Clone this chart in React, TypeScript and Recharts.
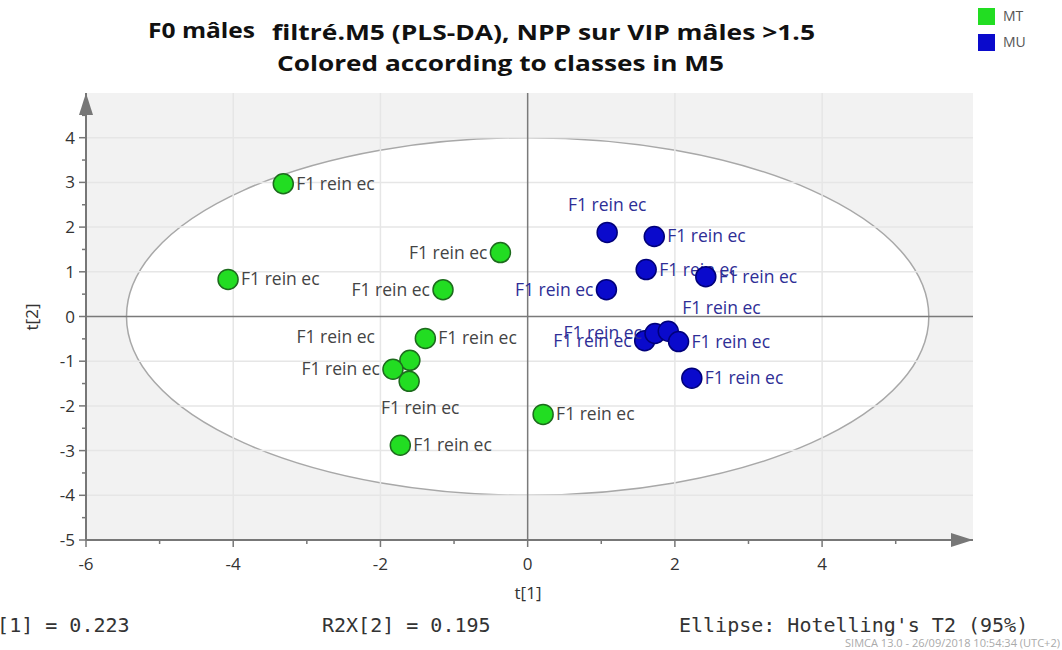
import React from 'react';
import {
  ScatterChart,
  Scatter,
  XAxis,
  YAxis,
  CartesianGrid,
  ReferenceLine,
  ReferenceArea,
  ReferenceDot,
} from 'recharts';

// scores t[1], t[2] for class MT (green) and MU (blue)
const mtT1 = [-3.32, -4.07, -0.37, -1.15, -1.39, -1.6, -1.83, -1.61, 0.21, -1.73];
const mtT2 = [2.97, 0.83, 1.43, 0.6, -0.49, -0.98, -1.18, -1.45, -2.19, -2.88];
const mtLabelSide = ['right', 'right', 'left', 'left', 'right', 'upleft', 'left', 'below', 'right', 'right'];

const muT1 = [1.08, 1.72, 1.61, 2.42, 1.07, 1.59, 1.73, 1.91, 2.05, 2.23];
const muT2 = [1.88, 1.79, 1.05, 0.89, 0.6, -0.54, -0.38, -0.33, -0.56, -1.38];
const muLabelSide = ['above', 'right', 'right', 'right', 'left', 'left', 'left', 'upright', 'right', 'right'];

const pointName = 'F1 rein ec';

const xTicks = [-6, -5, -4, -3, -2, -1, 0, 1, 2, 3, 4, 5];
const yTicks = [-5, -4.5, -4, -3.5, -3, -2.5, -2, -1.5, -1, -0.5, 0, 0.5, 1, 1.5, 2, 2.5, 3, 3.5, 4, 4.5];
const xGrid = [-4, -2, 2, 4];
const yGrid = [-4, -3, -2, -1, 1, 2, 3, 4];
const xDomain = [-6, 6.05];
const yDomain = [-5, 5];

// Hotelling's T2 (95%) ellipse semi-axes
const ellipseA = 5.45;
const ellipseB = 4.0;

const mtData = mtT1.map((t1, i) => ({ t1, t2: mtT2[i], side: mtLabelSide[i], name: pointName }));
const muData = muT1.map((t1, i) => ({ t1, t2: muT2[i], side: muLabelSide[i], name: pointName }));

const labelFont = '"Open Sans", sans-serif';

const makeShape = (fill: string, stroke: string, labelColor: string) => (props: any) => {
  const { cx, cy, payload } = props;
  let tx = cx + 13;
  let ty = cy + 6;
  let anchor = 'start';
  switch (payload.side) {
    case 'left':
      tx = cx - 13;
      anchor = 'end';
      break;
    case 'above':
      tx = cx;
      ty = cy - 21;
      anchor = 'middle';
      break;
    case 'below':
      tx = cx + 11;
      ty = cy + 33;
      anchor = 'middle';
      break;
    case 'upright':
      tx = cx + 14;
      ty = cy - 17;
      break;
    case 'upleft':
      tx = cx - 35;
      ty = cy - 17;
      anchor = 'end';
      break;
  }
  return (
    <g>
      <circle cx={cx} cy={cy} r={10} fill={fill} stroke={stroke} strokeWidth={1.5} />
      <text x={tx} y={ty} textAnchor={anchor} fontSize={17.5} fontFamily={labelFont} fill={labelColor}>
        {payload.name}
      </text>
    </g>
  );
};

const XTick = (props: any) => {
  const { x, y, payload } = props;
  const major = payload.value % 2 === 0;
  return (
    <g>
      <line x1={x} x2={x} y1={y} y2={y + (major ? 7 : 4)} stroke="#777" strokeWidth={1.5} />
      {major && (
        <text x={x} y={y + 30} textAnchor="middle" fontSize={17} fontFamily={labelFont} fill="#333">
          {payload.value}
        </text>
      )}
    </g>
  );
};

const YTick = (props: any) => {
  const { x, y, payload } = props;
  const major = Number.isInteger(payload.value);
  return (
    <g>
      <line x1={x - (major ? 7 : 4)} x2={x} y1={y} y2={y} stroke="#777" strokeWidth={1.5} />
      {major && (
        <text x={x - 11} y={y + 6} textAnchor="end" fontSize={17} fontFamily={labelFont} fill="#333">
          {payload.value}
        </text>
      )}
    </g>
  );
};

// grey shading outside the ellipse, drawn over the whole plot rect with the ellipse cut out
const ellipseMask = (p: any) => {
  const kx = p.width / (xDomain[1] - xDomain[0]);
  const ky = p.height / (yDomain[1] - yDomain[0]);
  const cx = p.x + (0 - xDomain[0]) * kx;
  const cy = p.y + (yDomain[1] - 0) * ky;
  const rx = ellipseA * kx;
  const ry = ellipseB * ky;
  const rect = `M${p.x},${p.y} h${p.width} v${p.height} h${-p.width} z`;
  const ell = `M${cx - rx},${cy} a${rx},${ry} 0 1,0 ${2 * rx},0 a${rx},${ry} 0 1,0 ${-2 * rx},0 z`;
  return (
    <g>
      <path d={`${rect} ${ell}`} fillRule="evenodd" fill="#000" fillOpacity={0.05} />
      <path d={ell} fill="none" stroke="#a8a8a8" strokeWidth={1.5} />
    </g>
  );
};

const rightArrow = (p: any) => <path d={`M${p.cx},${p.cy} l-22,-7 l0,14 z`} fill="#777" />;
const upArrow = (p: any) => <path d={`M${p.cx},${p.cy} l-7,22 l14,0 z`} fill="#777" />;

const monoFont = '"DejaVu Sans Mono", monospace';

export default function App() {
  return (
    <div style={{ position: 'absolute', left: 0, top: 0, width: 1062, height: 650, background: '#fff' }}>
      <ScatterChart width={1062} height={650} margin={{ top: 93, right: 89, bottom: 80, left: 36 }}>
        <CartesianGrid fill="#ffffff" horizontal={false} vertical={false} />
        {xGrid.map((v) => (
          <ReferenceLine key={`gx${v}`} x={v} stroke="#e6e6e6" strokeWidth={1.5} />
        ))}
        {yGrid.map((v) => (
          <ReferenceLine key={`gy${v}`} y={v} stroke="#e6e6e6" strokeWidth={1.5} />
        ))}
        <ReferenceArea x1={xDomain[0]} x2={xDomain[1]} y1={yDomain[0]} y2={yDomain[1]} shape={ellipseMask} />
        <ReferenceLine x={0} stroke="#7a7a7a" strokeWidth={1.5} />
        <ReferenceLine y={0} stroke="#7a7a7a" strokeWidth={1.5} />
        <XAxis
          type="number"
          dataKey="t1"
          domain={xDomain}
          ticks={xTicks}
          allowDataOverflow
          interval={0}
          tickSize={0}
          tickMargin={0}
          tickLine={false}
          tick={<XTick />}
          height={30}
          axisLine={{ stroke: '#777', strokeWidth: 2 }}
        />
        <YAxis
          type="number"
          dataKey="t2"
          domain={yDomain}
          ticks={yTicks}
          allowDataOverflow
          interval={0}
          tickSize={0}
          tickMargin={0}
          tickLine={false}
          tick={<YTick />}
          width={50}
          axisLine={{ stroke: '#777', strokeWidth: 2 }}
        />
        <Scatter name="MT" data={mtData} shape={makeShape('#22dd22', '#1d6b1d', '#444')} isAnimationActive={false} />
        <Scatter name="MU" data={muData} shape={makeShape('#0a0acc', '#00007a', '#2e2e96')} isAnimationActive={false} />
        <ReferenceDot x={xDomain[1]} y={yDomain[0]} ifOverflow="visible" shape={rightArrow} />
        <ReferenceDot x={xDomain[0]} y={yDomain[1]} ifOverflow="visible" shape={upArrow} />
      </ScatterChart>
      <svg width={1062} height={650} style={{ position: 'absolute', left: 0, top: 0, pointerEvents: 'none' }}>
        <g fontFamily={labelFont} fontWeight={700} fill="#111">
          <text x={148} y={38} fontSize={22} textLength={107} lengthAdjust="spacingAndGlyphs">F0 mâles</text>
          <text x={272} y={40} fontSize={21} textLength={543} lengthAdjust="spacingAndGlyphs">
            filtré.M5 (PLS-DA), NPP sur VIP mâles &gt;1.5
          </text>
          <text x={277} y={71} fontSize={21} textLength={447} lengthAdjust="spacingAndGlyphs">
            Colored according to classes in M5
          </text>
        </g>
        <rect x={978} y={8} width={17} height={17} fill="#22dd22" />
        <rect x={978} y={34} width={17} height={17} fill="#0a0acc" />
        <text x={1003} y={21} fontSize={14} fontFamily={labelFont} fill="#555">MT</text>
        <text x={1003} y={47} fontSize={14} fontFamily={labelFont} fill="#555">MU</text>
        <text x={528} y={599} textAnchor="middle" fontSize={17} fontFamily={labelFont} fill="#333">t[1]</text>
        <text
          x={38}
          y={317}
          textAnchor="middle"
          fontSize={17}
          fontFamily={labelFont}
          fill="#333"
          transform="rotate(-90 38 317)"
        >
          t[2]
        </text>
        <g fontFamily={monoFont} fontSize={20} fill="#333">
          <text x={-39} y={632}>R2X[1] = 0.223</text>
          <text x={322} y={632}>R2X[2] = 0.195</text>
          <text x={679} y={632}>Ellipse: Hotelling's T2 (95%)</text>
        </g>
        <text x={845} y={647} fontSize={11} fontFamily={labelFont} fill="#aaa" textLength={215} lengthAdjust="spacingAndGlyphs">
          SIMCA 13.0 - 26/09/2018 10:54:34 (UTC+2)
        </text>
      </svg>
    </div>
  );
}
